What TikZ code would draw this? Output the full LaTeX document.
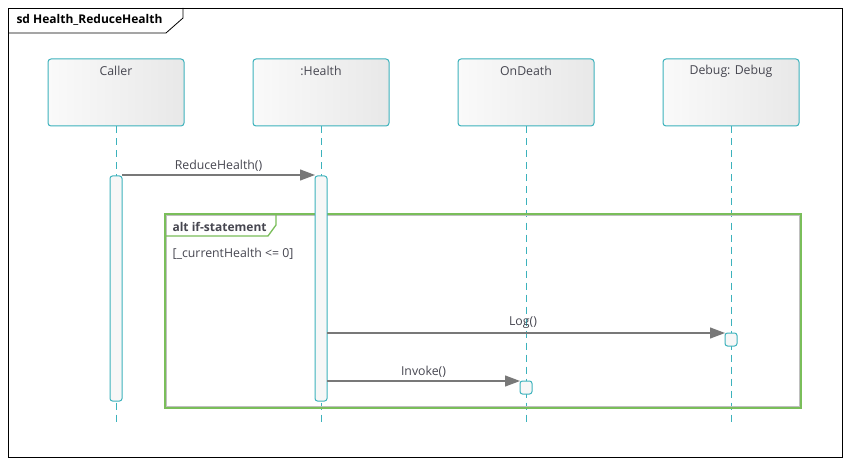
\documentclass[tikz,border=0pt]{standalone}
\usepackage{fontspec}
\setmainfont{Open Sans}
\usetikzlibrary{arrows.meta}
\definecolor{teal1}{RGB}{60,178,188}
\definecolor{grn}{RGB}{122,190,90}
\definecolor{txt}{RGB}{70,70,80}
\definecolor{arr}{RGB}{120,120,120}
\tikzset{
  head/.style={draw=teal1, line width=1pt, rounded corners=3pt, minimum width=136pt, minimum height=67pt,
    left color=black!2, middle color=black!3, right color=black!9, shading angle=90, inner sep=0pt},
  headtxt/.style={font=\fontsize{12.3}{14}\selectfont, text=txt},
  life/.style={draw=teal1, line width=1pt, dash pattern=on 7pt off 5pt},
  act/.style={draw=teal1, line width=1pt, fill=black!3, rounded corners=2.5pt},
  msg/.style={draw=arr, line width=1.2pt, -{Triangle[length=15pt,width=11pt]}},
  lbl/.style={font=\fontsize{12.3}{14}\selectfont, text=txt}
}
\begin{document}
\begin{tikzpicture}[x=1pt,y=-1pt]
\useasboundingbox (0,0) rectangle (851,465);
\fill[white] (0,0) rectangle (851,465);
% outer frame
\draw[black, line width=0.8pt] (8,8) rectangle (842,457);
\draw[black, line width=0.8pt] (8,33) -- (166,33) -- (183,18) -- (183,8);
\node[anchor=west, font=\bfseries\fontsize{12}{14}\selectfont] (title) at (13,20) {sd Health\_ReduceHealth};
% heads
\foreach \n/\x/\t in {caller/116/Caller, health/321/:Health, ondeath/526/OnDeath, debug/731/Debug: Debug}{
  \node[head] (\n) at (\x,92.5) {};
  \node[headtxt] (\n t) at (\x,71) {\t};
  \coordinate (\n end) at (\x,422);
  \draw[life] (\n.south) -- (\n end);
}
% alt frame
\draw[black!25, line width=1.2pt] (166.5,215.5) rectangle (799.5,406.5);
\draw[grn, line width=1.3pt] (165,214) rectangle (801,408);
\draw[grn, line width=1.3pt] (165,236) -- (268,236) -- (276,225) -- (276,214);
\node[anchor=west, font=\bfseries\fontsize{12}{14}\selectfont, text=txt] (alt) at (169,227) {alt if-statement};
\node[anchor=west, lbl] (guard) at (169,254) {[\_currentHealth <= 0]};
% activations
\draw[act] (110,176) rectangle (122,401);
\draw[act] (315,176) rectangle (327,401);
\draw[act] (520,381) rectangle (532,394);
\draw[act] (725,333) rectangle (737,346);
\coordinate (a1) at (122,175);
\coordinate (a2) at (315,175);
\coordinate (b1) at (327,333);
\coordinate (b2) at (725,333);
\coordinate (c1) at (327,381);
\coordinate (c2) at (520,381);
\draw[msg] (a1) -- node[lbl, above=0pt] (m1) {ReduceHealth()} (a2);
\draw[msg] (b1) -- (b2);
\node[lbl] (m2) at (523,323) {Log()};
\draw[msg] (c1) -- node[lbl, above=0pt] (m3) {Invoke()} (c2);
\end{tikzpicture}
\end{document}
